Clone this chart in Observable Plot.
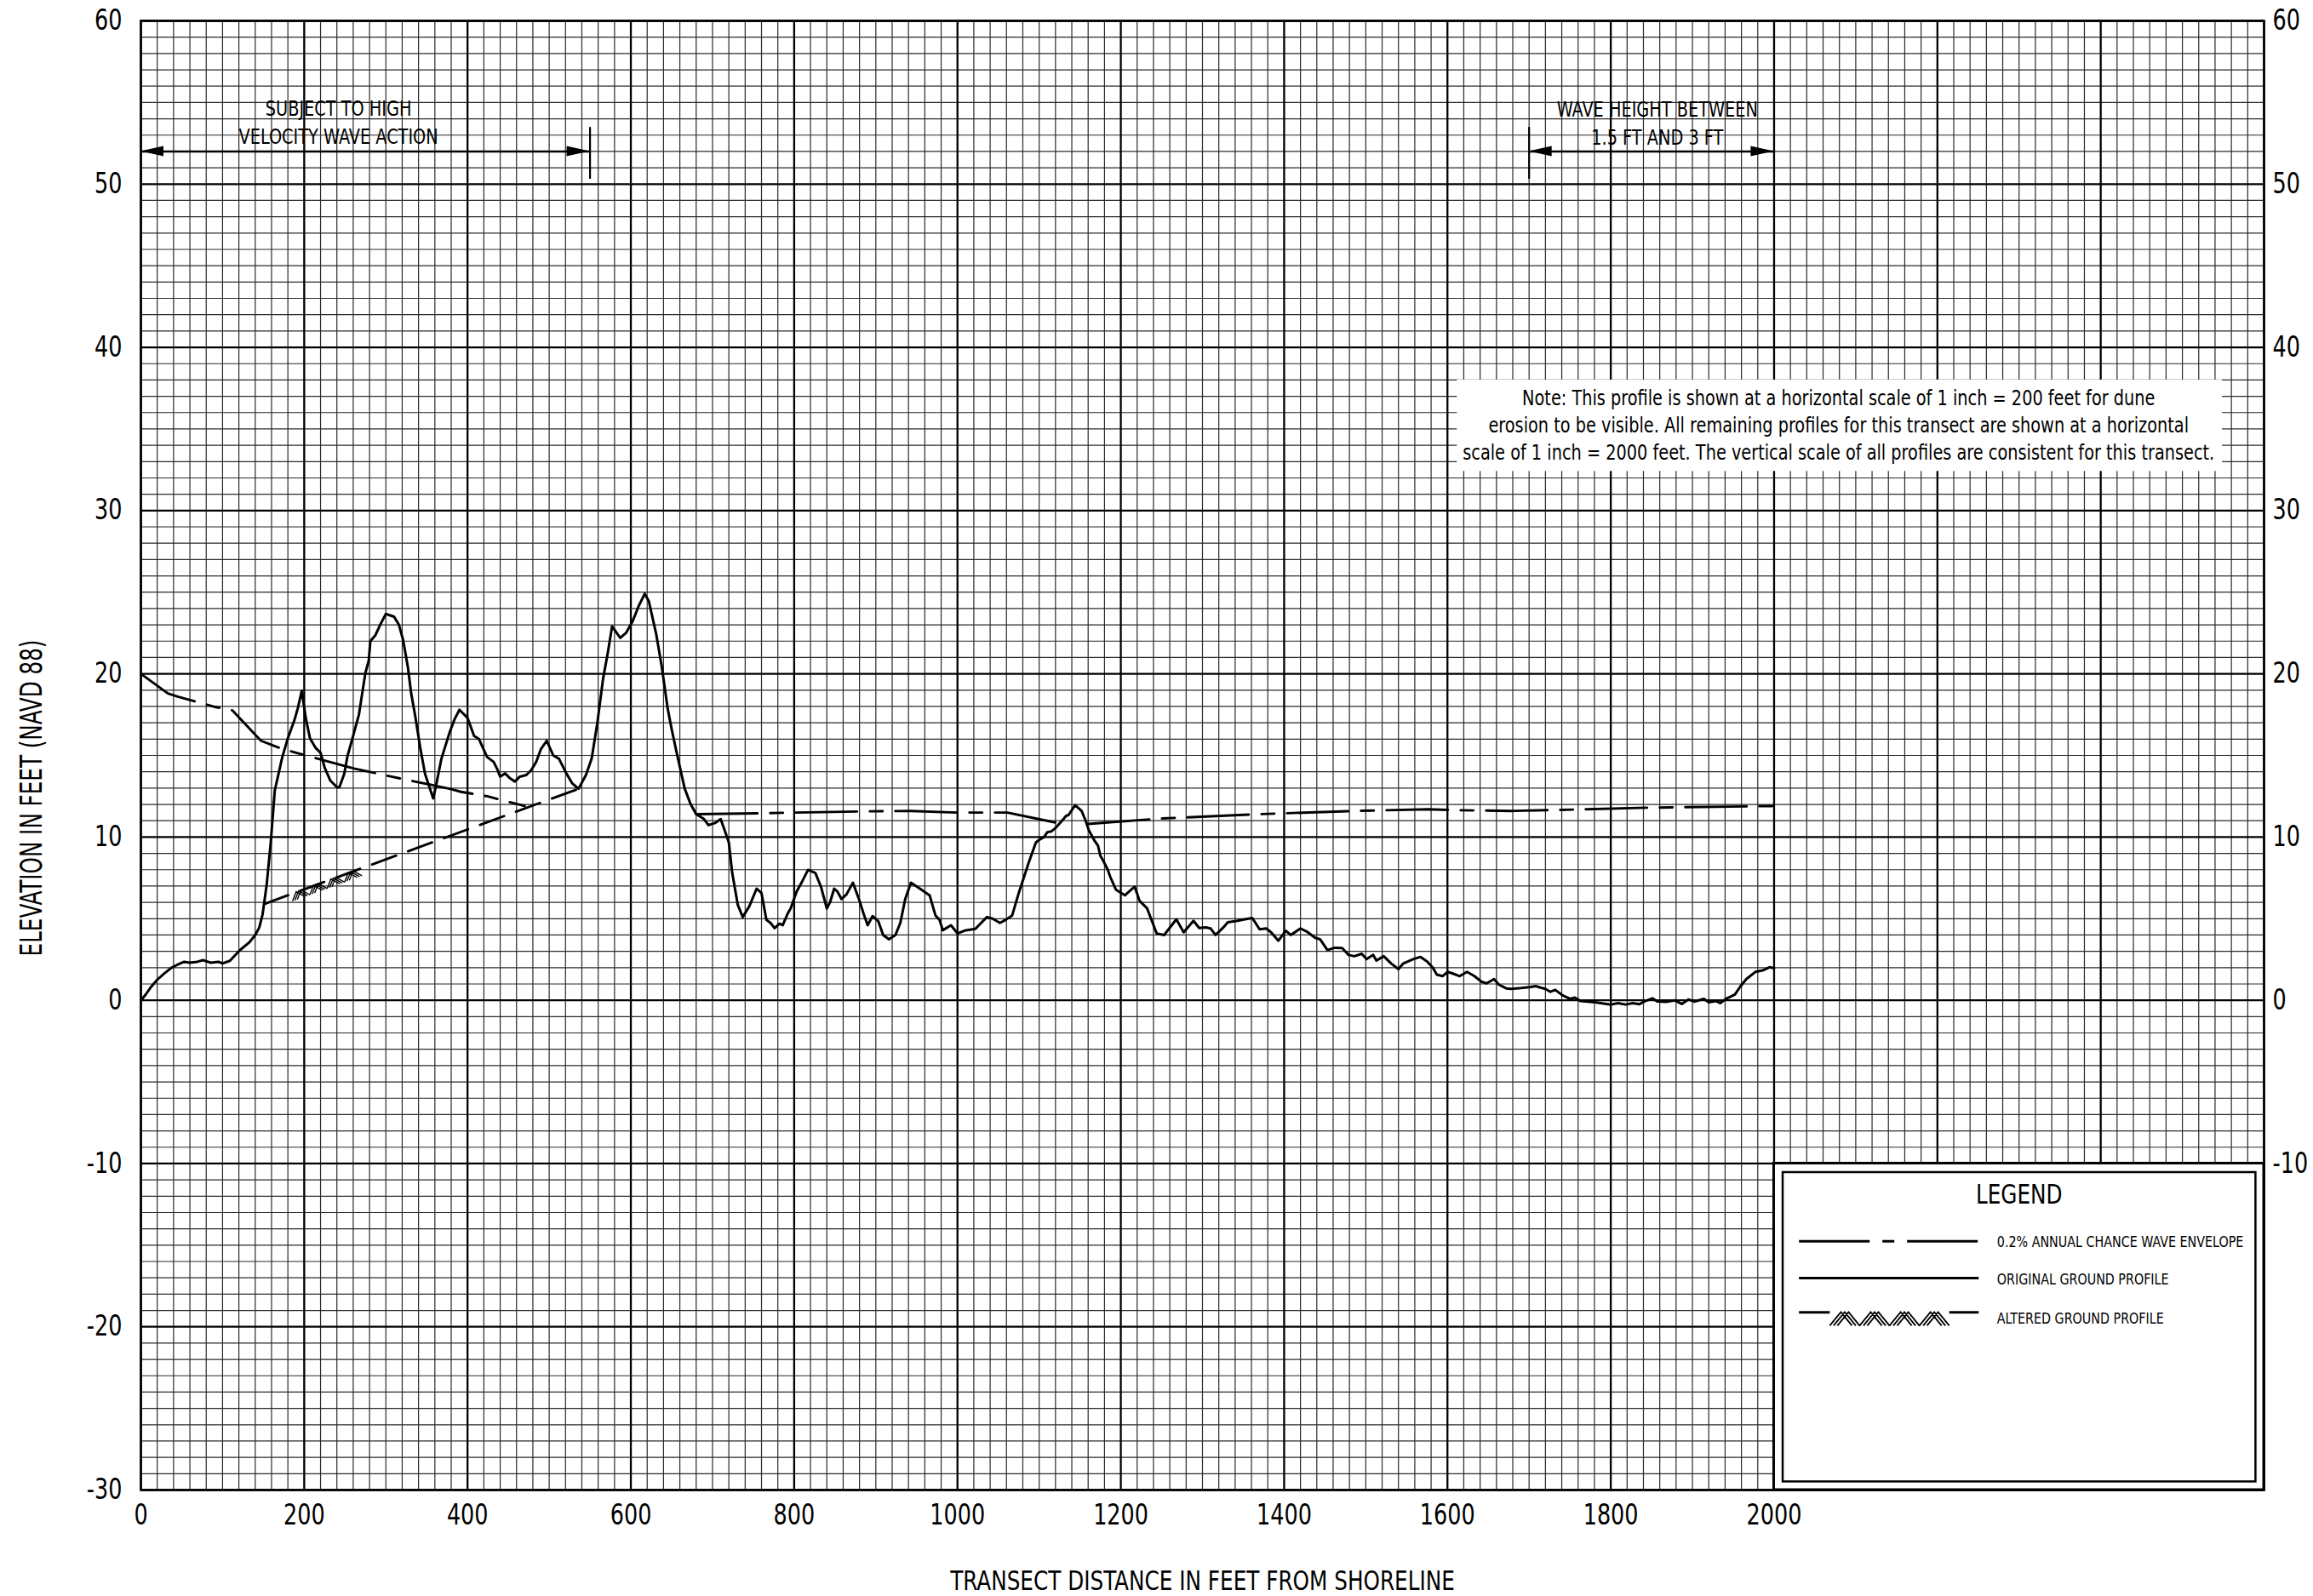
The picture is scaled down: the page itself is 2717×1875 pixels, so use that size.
<!DOCTYPE html>
<html>
<head>
<meta charset="utf-8">
<script src="https://cdn.jsdelivr.net/npm/d3@7"></script>
<script src="https://cdn.jsdelivr.net/npm/@observablehq/plot@0.6"></script>
<style>
html, body { margin: 0; padding: 0; background: #fff; overflow: hidden; }
#chart svg { display: block; max-width: none !important; }
</style>
</head>
<body>
<div id="chart"></div>
<script>
// ---------------- DATA ----------------
// Original ground profile: distance (ft) and elevation (ft NAVD 88)
const groundDist = [0,6,13,20,29,37.5,44,53,60,69,76,86,95,100,109,121,133,140,145,149,154,159,164,173,180,188,192,197,202,207,214,220,225,232,240,243,249,253,261,267,271,275,279,281,287,293,300,310,316,321,327,331,336,342,348,354,358,362,368,378,384,390,400,408,414,424,432,436,440,446,452,458,464,472,478,484,490,497,505,512,521,528,536,545,552,559,566,572,577,587,594,602,610,617,622,631,638,645,650,657,666,673,680,689,695,703,710,715,720,724,731,737,745,754,760,766,771,776,782,786,792,796,803,810,817,826,833,840,844,849,853,858,864,872,880,885,890,896,903,909,916,924,930,936,943,954,966,973,978,982,992,1000,1010,1022,1029,1036,1043,1052,1059,1067,1075,1087,1096,1100,1106,1110,1115,1120,1128,1133,1136,1144,1152,1157,1161,1168,1172,1175,1178,1184,1187,1194,1205,1211,1217,1223,1232,1244,1253,1268,1277,1289,1296,1304,1310,1316,1325,1331,1343,1352,1361,1370,1378,1384,1393,1402,1408,1420,1429,1438,1444,1453,1462,1471,1479,1486,1495,1501,1509,1513,1522,1531,1540,1546,1558,1567,1575,1582,1587,1594,1600,1606,1615,1624,1633,1642,1648,1657,1663,1672,1678,1690,1702,1708,1714,1720,1726,1732,1741,1750,1756,1763,1781,1800,1809,1818,1827,1835,1842,1851,1857,1869,1878,1887,1895,1902,1914,1920,1929,1934,1941,1952,1959,1966,1977,1986,1995,2000];
const groundElev = [0,0.36,0.86,1.26,1.66,2.0,2.16,2.36,2.3,2.36,2.46,2.3,2.36,2.26,2.42,3.06,3.56,4.0,4.46,5.26,7.06,9.66,12.86,14.86,16.06,17.16,17.86,18.96,17.26,16.06,15.46,15.16,14.26,13.46,13.06,13.05,13.87,14.96,16.4,17.5,18.8,20.07,20.8,22.0,22.35,23.0,23.67,23.5,23.0,22.1,20.4,18.8,17.4,15.5,13.87,12.96,12.37,13.3,14.8,16.4,17.2,17.8,17.3,16.2,16.0,14.9,14.6,14.2,13.7,13.9,13.6,13.4,13.7,13.8,14.1,14.6,15.4,15.9,15.0,14.8,13.9,13.3,12.96,13.8,14.8,17.0,19.7,21.35,22.9,22.2,22.5,23.2,24.2,24.9,24.45,22.45,20.4,17.9,16.6,14.96,12.96,12.04,11.4,11.13,10.73,10.86,11.1,10.4,9.67,7.85,5.84,5.1,5.75,6.84,6.57,4.93,4.74,4.42,4.69,4.6,5.3,5.66,6.66,7.3,7.99,7.8,6.93,5.62,6.02,6.84,6.66,6.2,6.48,7.2,6.1,5.3,4.6,5.16,4.84,4.0,3.74,4.0,4.74,6.2,7.2,6.84,6.42,5.2,4.93,4.29,4.6,4.1,4.29,4.38,4.74,5.1,5.0,4.74,4.93,5.2,6.57,8.4,9.67,9.83,10.0,10.3,10.35,10.55,11.0,11.3,11.35,11.95,11.6,11.0,10.4,9.76,9.48,8.85,8.6,8.0,7.57,6.78,6.43,6.7,6.96,6.09,5.65,4.09,4.0,4.96,4.17,4.87,4.43,4.47,4.4,4.0,4.43,4.78,4.87,4.96,5.04,4.35,4.4,4.17,3.65,4.26,4.0,4.4,4.17,3.83,3.74,3.08,3.22,3.2,2.78,2.7,2.85,2.52,2.78,2.43,2.7,2.26,1.91,2.26,2.52,2.66,2.38,2.0,1.57,1.48,1.74,1.65,1.48,1.74,1.48,1.13,1.04,1.3,0.96,0.73,0.7,0.75,0.82,0.87,0.78,0.7,0.52,0.64,0.3,0.09,0.17,-0.05,-0.12,-0.26,-0.17,-0.26,-0.17,-0.24,-0.05,0.12,-0.07,-0.09,0.0,-0.22,0.05,-0.08,0.09,-0.12,-0.05,-0.17,0.09,0.35,0.87,1.3,1.74,1.83,2.03,1.96];

// 0.2% annual chance wave envelope (pieces)
const envADist = [0,33,45,91,112,147,173,191,261,307,378,392,424,470];
const envAElev = [20,18.8,18.6,17.97,17.76,15.9,15.4,15.15,14.2,13.7,12.96,12.77,12.5,11.9];
const envCDist = [680,759,880,943,999,1061,1124];
const envCElev = [11.4,11.46,11.57,11.6,11.5,11.5,10.85];
const envDDist = [1160,1247,1367,1486,1576,1606,1678,1726,1845,2000];
const envDElev = [10.8,11.13,11.4,11.6,11.7,11.65,11.6,11.65,11.8,11.9];
// Lower (altered ground) line
const envBDist = [151,536];
const envBElev = [5.9,12.96];
const alteredFrom = 183, alteredTo = 268;   // extent of altered-ground hatch (ft)

// Axes
const xTicks = [0,200,400,600,800,1000,1200,1400,1600,1800,2000];
const yTicksLeft = [60,50,40,30,20,10,0,-10,-20,-30];
const yTicksRight = [60,50,40,30,20,10,0,-10];
const xTitle = "TRANSECT DISTANCE IN FEET FROM SHORELINE";
const yTitle = "ELEVATION IN FEET (NAVD 88)";

// Zone annotations (data units)
const zoneLabels = ["SUBJECT TO HIGH\nVELOCITY WAVE ACTION", "WAVE HEIGHT BETWEEN\n1.5 FT AND 3 FT"];
const zoneFrom = [0, 1700];
const zoneTo = [550, 2000];
const zoneElev = [52, 52];
const zoneTickAt = [550, 1700];
const zoneLabelAt = [242, 1857];
const zoneLabelElev = [52.45, 52.4];

// Note
const noteText = "Note: This profile is shown at a horizontal scale of 1 inch = 200 feet for dune\nerosion to be visible. All remaining profiles for this transect are shown at a horizontal\nscale of 1 inch = 2000 feet. The vertical scale of all profiles are consistent for this transect.";
const noteBox = {x1: 1612, x2: 2549, y1: 32.4, y2: 38.0};
const noteAt = {x: 2079, y: 33.13};

// Legend
const legendTitle = "LEGEND";
const legendItems = ["0.2% ANNUAL CHANCE WAVE ENVELOPE", "ORIGINAL GROUND PROFILE", "ALTERED GROUND PROFILE"];
const legendBox = {x1: 2000, x2: 2600, y1: -30, y2: -10};
const legendInner = {x1: 2011, x2: 2590, y1: -29.5, y2: -10.55};
const legendLineElev = [-14.76, -17.01, -19.12];
const legendTextElev = [-14.8, -17.09, -19.5];
const legendSampleFrom = 2031, legendSampleTo = 2251, legendTextAt = 2273;
const legendHatchFrom = 2068.7, legendHatchTo = 2215;
const legendTitleAt = {x: 2300, y: -11.94};

// ---------------- RENDER ----------------
const FONT = '"Liberation Sans Narrow","Arial Narrow","DejaVu Sans Condensed","Roboto Condensed",sans-serif';
const ENV_DASH = "72,15,15,15";

const ground = groundDist.map((d, i) => ({d, e: groundElev[i]}));
const mk = (D, E, k) => D.map((d, i) => ({d, e: E[i], k}));
const envMain = [...mk(envADist, envAElev, "A"), ...mk(envCDist, envCElev, "C"), ...mk(envDDist, envDElev, "D")];
const envLower = mk(envBDist, envBElev, "B");

const minorX = d3.range(0, 2601, 20).filter(v => v % 200 !== 0);
const majorX = d3.range(0, 2601, 200);
const minorY = d3.range(-30, 61, 1).filter(v => v % 10 !== 0);
const majorY = d3.range(-30, 61, 10);

const zones = zoneLabels.map((label, i) => ({label, x1: zoneFrom[i], x2: zoneTo[i], y: zoneElev[i], tick: zoneTickAt[i], lx: zoneLabelAt[i], ly: zoneLabelElev[i]}));
const legendRows = legendItems.map((t, i) => ({t, ly: legendLineElev[i], ty: legendTextElev[i], i}));

function interpB(x) {
  return envBElev[0] + (x - envBDist[0]) * (envBElev[1] - envBElev[0]) / (envBDist[1] - envBDist[0]);
}

// hatch (altered ground) along a segment
function hatch(xa, ya, xb, yb, n, depth, gap, width) {
  return (index, scales) => {
    const x0 = scales.x(xa), y0 = scales.y(ya), x1 = scales.x(xb), y1 = scales.y(yb);
    const len = Math.hypot(x1 - x0, y1 - y0);
    const ang = Math.atan2(y1 - y0, x1 - x0) * 180 / Math.PI;
    const p = len / n;
    let d = "";
    for (let k = 0; k < n; k++) {
      const c = k * p + p / 2;
      for (const o of [-gap, 0, gap]) {
        d += `M${c - p / 2 + o + gap},${depth}L${c + o},0L${c + p / 2 + o - gap},${depth}`;
      }
    }
    const g = d3.create("svg:g").attr("transform", `translate(${x0},${y0}) rotate(${ang})`);
    g.append("path").attr("d", d).attr("fill", "none").attr("stroke", "#000").attr("stroke-width", width);
    return g.node();
  };
}

// filled arrow heads for the zone arrows
function arrowHeads(index, scales) {
  const g = d3.create("svg:g").attr("fill", "#000");
  for (const z of zones) {
    const y = scales.y(z.y);
    const a = scales.x(z.x1), b = scales.x(z.x2);
    g.append("path").attr("d", `M${a},${y}L${a + 27},${y - 6}L${a + 27},${y + 6}Z`);
    g.append("path").attr("d", `M${b},${y}L${b - 27},${y - 6}L${b - 27},${y + 6}Z`);
  }
  return g.node();
}

const plot = Plot.plot({
  width: 2717,
  height: 1875,
  marginLeft: 165,
  marginRight: 58,
  marginTop: 24,
  marginBottom: 125,
  x: {domain: [0, 2600]},
  y: {domain: [-30, 60]},
  style: {fontFamily: FONT, background: "#fff", color: "#000"},
  marks: [
    // graph-paper grid
    Plot.ruleX(minorX, {stroke: "#2a2a2a", strokeWidth: 1.2}),
    Plot.ruleY(minorY, {stroke: "#2a2a2a", strokeWidth: 1.2}),
    Plot.ruleX(majorX, {stroke: "#000", strokeWidth: 2.3}),
    Plot.ruleY(majorY, {stroke: "#000", strokeWidth: 2.3}),
    // note box background
    Plot.rect([noteBox], {x1: "x1", x2: "x2", y1: "y1", y2: "y2", fill: "#fff"}),
    // legend boxes
    Plot.rect([legendBox], {x1: "x1", x2: "x2", y1: "y1", y2: "y2", fill: "#fff", stroke: "#000", strokeWidth: 3}),
    Plot.rect([legendInner], {x1: "x1", x2: "x2", y1: "y1", y2: "y2", fill: "none", stroke: "#000", strokeWidth: 2.5}),
    // profiles
    Plot.line(envLower, {x: "d", y: "e", stroke: "#000", strokeWidth: 2.9, strokeDasharray: "30,15"}),
    Plot.line(envMain, {x: "d", y: "e", z: "k", stroke: "#000", strokeWidth: 2.9, strokeDasharray: ENV_DASH}),
    Plot.line(ground, {x: "d", y: "e", stroke: "#000", strokeWidth: 3, strokeLinejoin: "round"}),
    hatch(alteredFrom, interpB(alteredFrom), alteredTo, interpB(alteredTo), 4, 9, 3, 1.4),
    // zone arrows
    Plot.ruleY(zones, {y: "y", x1: "x1", x2: "x2", stroke: "#000", strokeWidth: 2.5}),
    Plot.ruleX(zones, {x: "tick", y1: 50.3, y2: 53.47, stroke: "#000", strokeWidth: 2.2}),
    arrowHeads,
    Plot.text(zones, {x: "lx", y: "ly", text: "label", fontSize: 25, lineAnchor: "bottom", lineHeight: 1.33, fill: "#000"}),
    // note
    Plot.text([noteText], {x: noteAt.x, y: noteAt.y, text: d => d, fontSize: 25, lineAnchor: "bottom", lineHeight: 1.28, fill: "#000"}),
    // legend content
    Plot.text([legendTitle], {x: legendTitleAt.x, y: legendTitleAt.y, text: d => d, fontSize: 32, fill: "#000"}),
    Plot.ruleY(legendRows.filter(r => r.i === 0), {y: "ly", x1: legendSampleFrom, x2: legendSampleTo, stroke: "#000", strokeWidth: 3, strokeDasharray: "83,15,14,15"}),
    Plot.ruleY(legendRows.filter(r => r.i === 1), {y: "ly", x1: legendSampleFrom, x2: legendSampleTo, stroke: "#000", strokeWidth: 3}),
    Plot.ruleY(legendRows.filter(r => r.i === 2), {y: "ly", x1: legendSampleFrom, x2: legendHatchFrom, stroke: "#000", strokeWidth: 3}),
    Plot.ruleY(legendRows.filter(r => r.i === 2), {y: "ly", x1: legendHatchTo, x2: legendSampleTo, stroke: "#000", strokeWidth: 3}),
    hatch(legendHatchFrom, legendLineElev[2], legendHatchTo, legendLineElev[2], 4, 16, 4.5, 1.8),
    Plot.text(legendRows, {x: legendTextAt, y: "ty", text: "t", textAnchor: "start", fontSize: 18.5, fill: "#000"}),
    // axes
    Plot.axisY(yTicksLeft, {anchor: "left", tickSize: 0, tickPadding: 22, fontSize: 33, tickFormat: d => `${d}`, label: null}),
    Plot.axisY(yTicksRight, {anchor: "right", tickSize: 0, tickPadding: 10, fontSize: 33, tickFormat: d => `${d}`, label: null}),
    Plot.axisX(xTicks, {anchor: "bottom", tickSize: 0, tickPadding: 17, fontSize: 33, tickFormat: d => `${d}`, label: null}),
    Plot.text([yTitle], {frameAnchor: "left", text: d => d, textAnchor: "middle", rotate: -90, dx: -128, dy: 50, fontSize: 36, fill: "#000"}),
    Plot.text([xTitle], {frameAnchor: "bottom", text: d => d, textAnchor: "middle", dy: 117, lineAnchor: "bottom", fontSize: 32, fill: "#000"}),
    Plot.frame({stroke: "#000", strokeWidth: 2.6})
  ]
});

// Condense the sans-serif to the width of the original condensed lettering
const ctx = document.createElement("canvas").getContext("2d");
function widthAt(str, size) { ctx.font = `${size}px ${FONT}`; return ctx.measureText(str).width; }
const SQ = Math.min(1, 593 / widthAt(xTitle, 32));
const SQ_Y = Math.min(1, 372 / widthAt(yTitle, 36));
plot.querySelectorAll("text").forEach(t => {
  const tr = t.getAttribute("transform");
  if (!tr) return;
  const s = t.textContent === yTitle ? SQ_Y : SQ;
  t.setAttribute("transform", `${tr} scale(${s},1)`);
});

document.getElementById("chart").append(plot);
</script>
</body>
</html>
